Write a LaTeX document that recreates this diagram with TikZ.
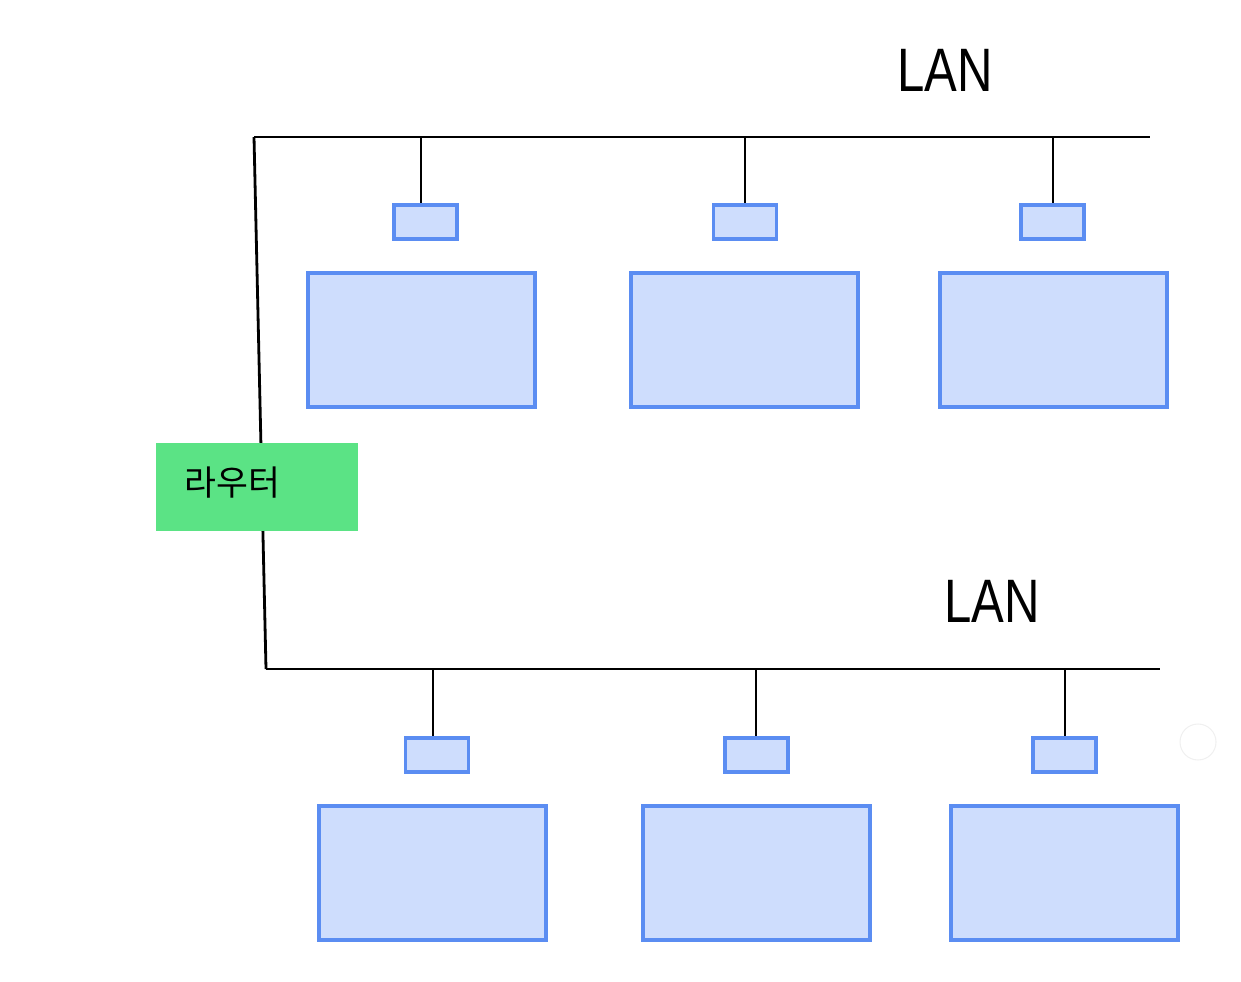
\documentclass[tikz,border=0pt]{standalone}
\usepackage{fontspec}
\setmainfont{Liberation Sans}
\newfontfamily\krfont{Noto Sans CJK KR}
\definecolor{pcfill}{HTML}{CEDDFD}
\definecolor{pcline}{HTML}{5B8DF2}
\definecolor{routerg}{HTML}{5BE385}
\begin{document}
\begin{tikzpicture}[x=0.75pt,y=-0.75pt,
  wire/.style={draw=black,line width=2.1pt},
  nic/.style={draw=pcline,fill=pcfill,line width=2.3pt,minimum width=63*0.75pt,minimum height=34*0.75pt,inner sep=0pt},
  host/.style={draw=pcline,fill=pcfill,line width=2.3pt,minimum width=227*0.75pt,minimum height=134*0.75pt,inner sep=0pt},
  router/.style={fill=routerg,minimum width=202*0.75pt,minimum height=88*0.75pt,inner sep=0pt},
  lan/.style={font=\fontsize{46}{46}\selectfont,xscale=0.8}]
\useasboundingbox (0,0) rectangle (1241,981);
% buses
\coordinate (t0) at (254,137);
\coordinate (t1) at (1150,137);
\coordinate (b0) at (266,669);
\coordinate (b1) at (1160,669);
\draw[wire] (t0) -- (t1);
\draw[wire] (b0) -- (b1);
\draw[wire] (t0) -- (b0);
% router
\node[router] (r) at (257,487) {};
\node[font=\krfont\fontsize{26}{26}\selectfont, anchor=west] (rt) at (180,483) {라우터};
% top hosts
\node[nic] (n1) at (425.5,222) {};
\node[nic] (n2) at (745,222) {};
\node[nic] (n3) at (1052.5,222) {};
\node[host] (h1) at (421.5,340) {};
\node[host] (h2) at (744.5,340) {};
\node[host] (h3) at (1053.5,340) {};
\coordinate (d1) at (421,137);
\coordinate (d2) at (745,137);
\coordinate (d3) at (1053,137);
\draw[wire] (d1) -- (d1 |- n1.north);
\draw[wire] (d2) -- (d2 |- n2.north);
\draw[wire] (d3) -- (d3 |- n3.north);
% bottom hosts
\node[nic] (m1) at (437,755) {};
\node[nic] (m2) at (756.5,755) {};
\node[nic] (m3) at (1064.5,755) {};
\node[host] (g1) at (432.5,873) {};
\node[host] (g2) at (756.5,873) {};
\node[host] (g3) at (1064.5,873) {};
\coordinate (e1) at (433,669);
\coordinate (e2) at (756,669);
\coordinate (e3) at (1065,669);
\draw[wire] (e1) -- (e1 |- m1.north);
\draw[wire] (e2) -- (e2 |- m2.north);
\draw[wire] (e3) -- (e3 |- m3.north);
% labels
\node[lan] (lan1) at (945,70) {LAN};
\node[lan] (lan2) at (992,601) {LAN};
% faint circle
\node[draw=black!6,line width=0.8pt,circle,minimum size=36*0.75pt] (c) at (1198,742) {};
\end{tikzpicture}
\end{document}
